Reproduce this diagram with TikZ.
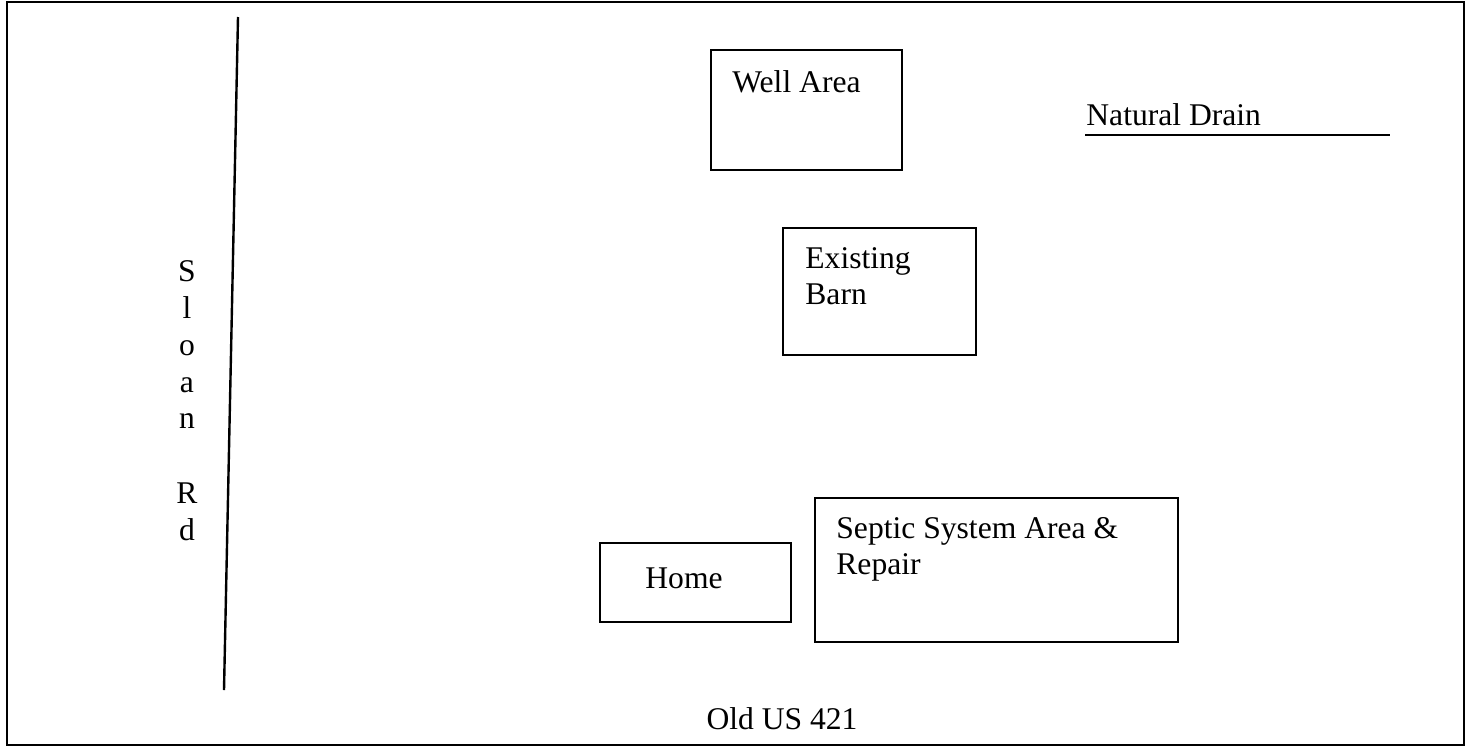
\documentclass[tikz,border=0pt]{standalone}
\usepackage{fontspec}
\setmainfont{Liberation Serif}
\begin{document}
\begin{tikzpicture}[x=0.5pt,y=-0.5pt,
bx/.style={draw=black, line width=1pt},
fr/.style={draw=black, line width=0.8pt},
rd/.style={draw=black, line width=1.2pt},
lb/.style={anchor=base west, inner sep=0pt, font=\fontsize{15.8}{18}\selectfont},
lc/.style={anchor=base, inner sep=0pt, font=\fontsize{15.8}{18}\selectfont},
]
\useasboundingbox (0,0) rectangle (1475,750);
\draw[fr] (7,2) rectangle (1464,745);
% road on the left
\coordinate (rdtop) at (238,17);
\coordinate (rdbot) at (224,690);
\draw[rd] (rdtop) -- (rdbot);
\foreach \ch/\yy [count=\i] in {S/281,l/318,o/355,a/392,n/428,R/503,d/540}
  \node[lc] (sl\i) at (187,\yy) {\ch};
% buildings
\draw[bx] (711,50) rectangle (902,170);
\node[lb] (well) at (732,92) {Well Area};
\draw[bx] (783,228) rectangle (976,355);
\node[lb] (barn1) at (805,268) {Existing};
\node[lb] (barn2) at (805,304) {Barn};
\draw[bx] (600,543) rectangle (791,622);
\node[lb] (home) at (645,588) {Home};
\draw[bx] (815,498) rectangle (1178,642);
\node[lb] (sep1) at (836,538) {Septic System Area \&};
\node[lb] (sep2) at (836,574) {Repair};
% drain
\node[lb] (drain) at (1086,125) {Natural Drain};
\coordinate (dra) at (1085,135);
\coordinate (drb) at (1390,135);
\draw[bx] (dra) -- (drb);
\node[lc] (old) at (782,729) {Old US 421};
\end{tikzpicture}
\end{document}
